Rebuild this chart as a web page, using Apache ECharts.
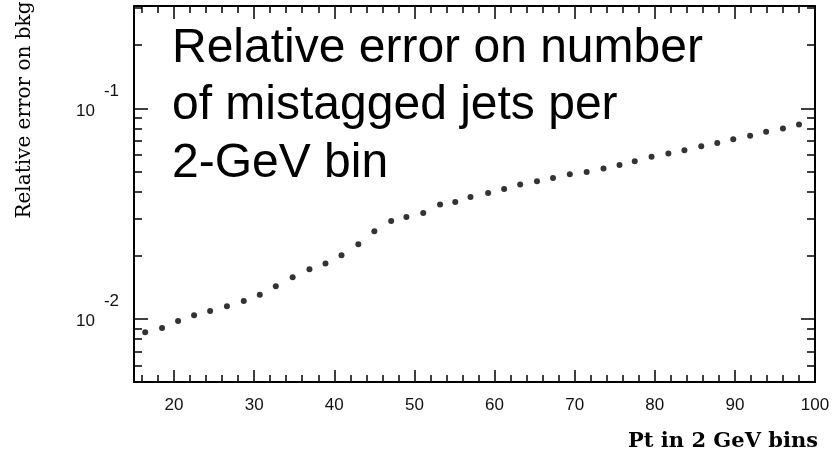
<!DOCTYPE html>
<html>
<head>
<meta charset="utf-8">
<script src="https://cdn.jsdelivr.net/npm/echarts@6/dist/echarts.min.js"></script>
<style>
html,body{margin:0;padding:0;background:#fff;}
#chart{width:834px;height:463px;}
</style>
</head>
<body>
<div id="chart"></div>
<script>
// ---- data ----
var ptBins = [16.4, 18.5, 20.5, 22.5, 24.5, 26.6, 28.7, 30.7, 32.7, 34.8, 36.9, 38.9, 40.9, 43.0, 45.0, 47.1, 49.0, 51.1, 53.2, 55.1, 57.0, 59.2, 61.2, 63.2, 65.3, 67.3, 69.4, 71.5, 73.6, 75.6, 77.5, 79.6, 81.7, 83.7, 85.8, 87.8, 89.8, 91.9, 93.9, 96.0, 98.0];
var relErr = [0.00863, 0.00902, 0.00975, 0.01038, 0.01087, 0.01145, 0.01213, 0.01301, 0.01425, 0.01573, 0.01718, 0.01828, 0.02001, 0.02258, 0.02605, 0.02917, 0.03048, 0.03185, 0.03492, 0.03590, 0.03793, 0.03963, 0.04141, 0.04347, 0.04508, 0.04674, 0.04868, 0.04992, 0.05180, 0.05387, 0.05609, 0.05884, 0.06105, 0.06329, 0.06612, 0.06855, 0.07139, 0.07408, 0.07739, 0.08035, 0.08394];
var xMajorTicks = [20, 30, 40, 50, 60, 70, 80, 90, 100];
var xMinorTicks = [16, 18, 22, 24, 26, 28, 32, 34, 36, 38, 42, 44, 46, 48, 52, 54, 56, 58, 62, 64, 66, 68, 72, 74, 76, 78, 82, 84, 86, 88, 92, 94, 96, 98];
var yMajorTicks = [0.01, 0.1];
var yMinorTicks = [0.006, 0.007, 0.008, 0.009, 0.02, 0.03, 0.04, 0.05, 0.06, 0.07, 0.08, 0.09, 0.2, 0.3];
var yTitle = 'Relative error on bkg';
var xTitle = 'Pt in 2 GeV bins';
var noteLines = ['Relative error on number', 'of mistagged jets per', '2-GeV bin'];

var points = ptBins.map(function (x, i) { return [x, relErr[i]]; });

var LINE = {show: true, lineStyle: {color: '#000', width: 2}};
var NOLINE = {show: false};
var LABEL_FONT = {fontSize: 17, fontFamily: 'Liberation Sans', color: '#111'};
function xAx(pos, ticks, len, labels) {
  return {
    type: 'value', gridIndex: 0, position: pos, min: 15, max: 100,
    axisLine: labels !== null ? LINE : NOLINE,
    splitLine: {show: false},
    axisTick: {show: true, inside: true, length: len, customValues: ticks, lineStyle: {color: '#000', width: 1.5}},
    axisLabel: labels ? {show: true, customValues: labels, margin: 15, color: LABEL_FONT.color, fontSize: LABEL_FONT.fontSize, fontFamily: LABEL_FONT.fontFamily} : {show: false}
  };
}
function yAx(pos, ticks, len, labels) {
  return {
    type: 'log', logBase: 10, gridIndex: 0, position: pos, min: 0.005, max: 0.307,
    axisLine: labels !== null ? LINE : NOLINE,
    splitLine: {show: false}, minorTick: {show: false},
    axisTick: {show: true, inside: true, length: len, customValues: ticks, lineStyle: {color: '#000', width: 1.5}},
    axisLabel: labels ? {
      show: true, customValues: labels, margin: 15,
      formatter: function (v) { return '{b|10}{s|' + Math.round(Math.log10(v)) + '}'; },
      rich: {
        b: {fontSize: LABEL_FONT.fontSize, fontFamily: LABEL_FONT.fontFamily, color: LABEL_FONT.color, padding: [6, 0, 0, 0]},
        s: {fontSize: LABEL_FONT.fontSize, fontFamily: LABEL_FONT.fontFamily, color: LABEL_FONT.color, padding: [0, 0, 34, 9]}
      }
    } : {show: false}
  };
}

var chart = echarts.init(document.getElementById('chart'), null, {renderer: 'canvas'});
chart.setOption({
  backgroundColor: '#fff',
  animation: false,
  grid: {left: 134, right: 19, top: 6, bottom: 81, containLabel: false},
  xAxis: [
    xAx('bottom', xMajorTicks, 12, xMajorTicks),
    xAx('bottom', xMinorTicks, 7, null),
    xAx('top', xMajorTicks, 13, false),
    xAx('top', xMinorTicks, 7, null)
  ],
  yAxis: [
    yAx('left', yMajorTicks, 14, yMajorTicks),
    yAx('left', yMinorTicks, 8, null),
    yAx('right', yMajorTicks, 14, false),
    yAx('right', yMinorTicks, 8, null)
  ],
  series: [{
    type: 'scatter', xAxisIndex: 0, yAxisIndex: 0,
    symbol: 'circle', symbolSize: 6,
    itemStyle: {color: '#000'},
    data: points
  }],
  graphic: [
    {
      type: 'text', x: 25, y: 110, rotation: Math.PI / 2,
      style: {text: yTitle, fontSize: 20, fontFamily: 'DejaVu Serif', fill: '#000',
        align: 'center', verticalAlign: 'middle', textAlign: 'center', textVerticalAlign: 'middle'}
    },
    {
      type: 'text', x: 818, y: 442,
      style: {text: xTitle, fontSize: 21, fontWeight: 'bold', fontFamily: 'DejaVu Serif', fill: '#000',
        align: 'right', verticalAlign: 'middle', textAlign: 'right', textVerticalAlign: 'middle'}
    },
    {
      type: 'text', x: 172, y: 20,
      style: {text: noteLines.join('\n'), fontSize: 48, lineHeight: 57.5, fontFamily: 'Liberation Sans', fill: '#000',
        align: 'left', verticalAlign: 'top', textAlign: 'left', textVerticalAlign: 'top'}
    }
  ]
});
</script>
</body>
</html>
